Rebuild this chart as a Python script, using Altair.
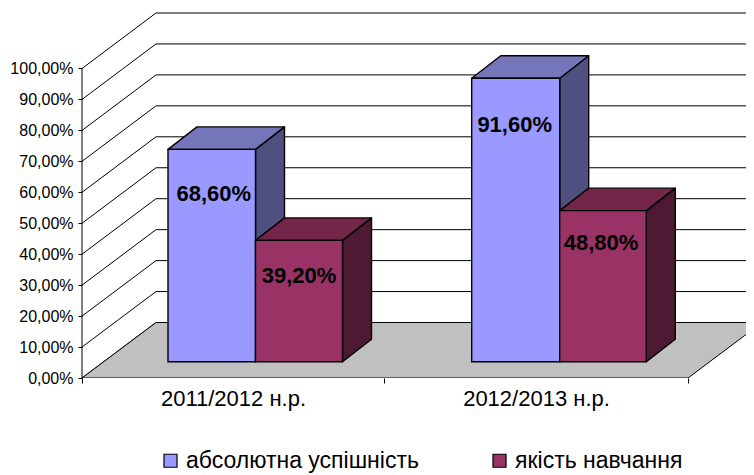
import altair as alt
import pandas as pd

categories = ["2011/2012 н.р.", "2012/2013 н.р."]
series_names = ["абсолютна успішність", "якість навчання"]
values_success = [68.6, 91.6]
values_quality = [39.2, 48.8]
levels = [0, 10, 20, 30, 40, 50, 60, 70, 80, 90, 100]

# layout: the plot's x scale is in pixels from the axis, y scale in percent
PX = 3.095            # pixels per percent
WIDTH, HEIGHT = 664, 370
WALL_X, WALL_Y = 74, 55.5 / PX     # depth of the floor
BAR_DX, BAR_DY = 29, 22.5 / PX     # depth of a bar
BASE = 16.3 / PX                   # bar foot above the axis
AXIS_END = 606
TICKS = [0, 302, AXIS_END]
CENTERS = [151, 454]
BAR_EDGES = [[(86, 173.5), (173.5, 260.5)], [(389.7, 477.7), (477.7, 564.3)]]
LABEL_DROP = [[45, 36], [47, 32]]
LABEL_SHIFT = [[2, 0], [-1, -2]]

front_colors = ["#9999FF", "#993366"]
side_colors = ["#4F4F80", "#4D1933"]
top_colors = ["#7575BA", "#732649"]
FONT = "Liberation Sans"

x_scale = alt.Scale(domain=[0, WIDTH], nice=False)
y_scale = alt.Scale(domain=[0, HEIGHT / PX], nice=False)
color_scale = alt.Scale(domain=series_names, range=front_colors)

x_axis = alt.Axis(
    values=sorted(TICKS + CENTERS), domain=False, grid=False, tickSize=5,
    tickColor="#000000", tickWidth=1,
    tickOpacity={"condition": {"test": f"datum.value=={CENTERS[0]}||datum.value=={CENTERS[1]}", "value": 0}, "value": 1},
    labelExpr=f"datum.value=={CENTERS[0]}?'{categories[0]}':datum.value=={CENTERS[1]}?'{categories[1]}':''",
    labelFont=FONT, labelFontSize=22, labelColor="#000000", labelPadding=5,
    labelFlush=False, labelOverlap=False, labelBaseline="top", title=None)
y_axis = alt.Axis(
    values=levels, domain=False, grid=False, tickSize=4, tickColor="#000000",
    tickWidth=1, labelExpr="replace(format(datum.value,'.2f'),'.',',')+'%'",
    labelFont=FONT, labelFontSize=16, labelColor="#000000", labelPadding=5,
    labelOverlap=False, title=None)
x_plain = alt.X("x:Q", scale=x_scale, axis=x_axis)
y_plain = alt.Y("y:Q", scale=y_scale, axis=y_axis)

# gridlines running from the front axis, over the side wall, along the back wall
grid_rows = []
for v in levels:
    grid_rows += [dict(level=v, x=0, y=v, step=0),
                  dict(level=v, x=WALL_X, y=v + WALL_Y, step=1),
                  dict(level=v, x=WIDTH, y=v + WALL_Y, step=2)]
grid = alt.Chart(pd.DataFrame(grid_rows)).mark_line(
    color="#000000", strokeWidth=1, clip=True
).encode(x=x_plain, y=y_plain, detail="level:N", order="step:Q")

y_axis_line = alt.Chart(pd.DataFrame({"x": [0], "y": [0], "y2": [100]})).mark_rule(
    color="#000000", strokeWidth=1
).encode(x=x_plain, y=y_plain, y2="y2:Q")

floor = alt.Chart(pd.DataFrame({
    "y": [0, WALL_Y], "x": [0, WALL_X], "x2": [AXIS_END, AXIS_END + WALL_X]
})).mark_area(orient="horizontal", color="#C0C0C0", stroke="#000000",
              strokeWidth=1, clip=True).encode(y=y_plain, x=x_plain, x2="x2:Q")

layers = [grid, floor, y_axis_line]

for s, (name, vals) in enumerate(zip(series_names, [values_success, values_quality])):
    side_rows, top_rows, front_rows = [], [], []
    for c, v in enumerate(vals):
        x0, x1 = BAR_EDGES[c][s]
        top = BASE + v
        side_rows += [dict(bar=c, x=x1, y=BASE, y2=top),
                      dict(bar=c, x=x1 + BAR_DX, y=BASE + BAR_DY, y2=top + BAR_DY)]
        top_rows += [dict(bar=c, y=top, x=x0, x2=x1),
                     dict(bar=c, y=top + BAR_DY, x=x0 + BAR_DX, x2=x1 + BAR_DX)]
        front_rows.append(dict(series=name, x=x0, x2=x1, y=BASE, y2=top))
    side = alt.Chart(pd.DataFrame(side_rows)).mark_area(
        color=side_colors[s], stroke="#000000", strokeWidth=1.4, strokeJoin="round"
    ).encode(x=x_plain, y=y_plain, y2="y2:Q", detail="bar:N")
    top_face = alt.Chart(pd.DataFrame(top_rows)).mark_area(
        orient="horizontal", color=top_colors[s], stroke="#000000", strokeWidth=1.4,
        strokeJoin="round"
    ).encode(y=y_plain, x=x_plain, x2="x2:Q", detail="bar:N")
    front = alt.Chart(pd.DataFrame(front_rows)).mark_rect(
        stroke="#000000", strokeWidth=1.4
    ).encode(
        x=x_plain, x2="x2:Q", y=y_plain, y2="y2:Q",
        color=alt.Color("series:N", scale=color_scale, legend=alt.Legend(
            orient="none", legendX=77, legendY=441, direction="horizontal",
            columns=2, columnPadding=69, title=None, symbolType="square",
            symbolSize=170, symbolStrokeColor="#000000", symbolStrokeWidth=1.2,
            labelFont=FONT, labelFontSize=23, labelColor="#000000", labelLimit=400,
            labelOffset=4)),
    )
    layers += [side, top_face, front]

label_rows = []
for c in range(2):
    for s, vals in enumerate([values_success, values_quality]):
        x0, x1 = BAR_EDGES[c][s]
        label_rows.append(dict(
            x=(x0 + x1) / 2 + LABEL_SHIFT[c][s],
            y=BASE + vals[c] - LABEL_DROP[c][s] / PX,
            text=f"{vals[c]:.2f}".replace(".", ",") + "%"))
labels = alt.Chart(pd.DataFrame(label_rows)).mark_text(
    font=FONT, fontSize=22, fontWeight="bold", color="#000000", baseline="middle"
).encode(x=x_plain, y=y_plain, text="text:N")
layers.append(labels)

chart = alt.layer(*layers).properties(
    width=WIDTH, height=HEIGHT,
    padding={"left": 74, "top": 0, "right": 0, "bottom": 97},
    autosize=alt.AutoSizeParams(type="none"),
    background="#FFFFFF",
).configure_view(stroke=None)

chart.save("out.html", embed_options={"renderer": "svg", "actions": False})
